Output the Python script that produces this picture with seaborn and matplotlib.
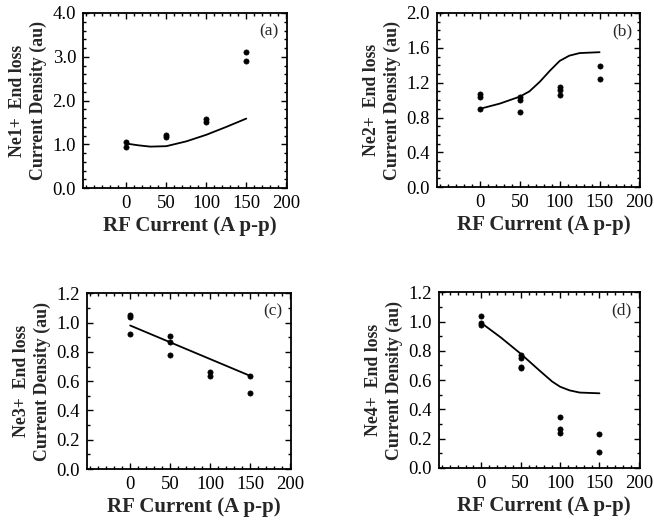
import numpy as np
import pandas as pd
import seaborn as sns
import matplotlib
matplotlib.use("Agg")
import matplotlib.pyplot as plt
from matplotlib.ticker import MultipleLocator, FormatStrFormatter

sns.set_style("ticks")
plt.rcParams['font.family'] = ['Liberation Serif', 'DejaVu Serif']

# ---- data ----
rf_a = [0, 0, 50, 50, 100, 100, 150, 150]
ne1_pts = [1.06, 0.93, 1.21, 1.18, 1.57, 1.51, 3.10, 2.90]
ne1_line_x = [0, 15, 30, 50, 75, 100, 125, 150]
ne1_line_y = [1.02, 0.98, 0.95, 0.96, 1.07, 1.22, 1.40, 1.59]

rf_b = [0, 0, 0, 50, 50, 50, 100, 100, 100, 150, 150]
ne2_pts = [1.065, 1.04, 0.90, 1.03, 1.00, 0.865, 1.15, 1.115, 1.06, 1.39, 1.24]
ne2_line_x = [0, 25, 50, 62, 75, 88, 100, 112, 125, 150]
ne2_line_y = [0.90, 0.96, 1.04, 1.10, 1.21, 1.34, 1.45, 1.51, 1.54, 1.55]

rf_c = [0, 0, 0, 50, 50, 50, 100, 100, 150, 150]
ne3_pts = [1.05, 1.036, 0.92, 0.91, 0.87, 0.78, 0.66, 0.635, 0.636, 0.52]
ne3_line_x = [0, 150]
ne3_line_y = [0.98, 0.636]

rf_d = [0, 0, 0, 50, 50, 50, 50, 100, 100, 100, 150, 150]
ne4_pts = [1.04, 0.99, 0.975, 0.77, 0.75, 0.69, 0.68, 0.35, 0.265, 0.24, 0.233, 0.11]
ne4_line_x = [0, 25, 50, 75, 90, 100, 112, 125, 150]
ne4_line_y = [0.99, 0.89, 0.78, 0.66, 0.59, 0.555, 0.53, 0.515, 0.51]

ylabels = ["Ne1+  End loss\nCurrent Density (au)",
           "Ne2+  End loss\nCurrent Density (au)",
           "Ne3+  End loss\nCurrent Density (au)",
           "Ne4+  End loss\nCurrent Density (au)"]
panel_tags = ["(a)", "(b)", "(c)", "(d)"]
xticks = [0, 50, 100, 150, 200]
xlabel = "RF Current (A p-p)"

fig = plt.figure(figsize=(6.54, 5.20), dpi=100)
positions = [
    [0.127, 0.638, 0.312, 0.337],
    [0.668, 0.640, 0.311, 0.335],
    [0.133, 0.098, 0.312, 0.338],
    [0.671, 0.100, 0.307, 0.338],
]
panels = [
    (rf_a, ne1_pts, ne1_line_x, ne1_line_y, (0, 4.0), 1.0, 0.2),
    (rf_b, ne2_pts, ne2_line_x, ne2_line_y, (0, 2.0), 0.4, 0.1),
    (rf_c, ne3_pts, ne3_line_x, ne3_line_y, (0, 1.2), 0.2, 0.1),
    (rf_d, ne4_pts, ne4_line_x, ne4_line_y, (0, 1.2), 0.2, 0.1),
]

for i, (pos, (xs, ys, lx, ly, ylim, ymaj, ymin)) in enumerate(zip(positions, panels)):
    ax = fig.add_axes(pos)
    pts = pd.DataFrame({"x": xs, "y": ys})
    ln = pd.DataFrame({"x": lx, "y": ly})
    sns.lineplot(data=ln, x="x", y="y", ax=ax, color="black", lw=1.3,
                 estimator=None, sort=False)
    sns.scatterplot(data=pts, x="x", y="y", ax=ax, color="black", s=14,
                    edgecolor="black", linewidth=0.5, zorder=3)
    ax.set_xlim(-54, 201)
    ax.set_ylim(*ylim)
    ax.set_xticks(xticks)
    ax.xaxis.set_minor_locator(MultipleLocator(10))
    ax.yaxis.set_major_locator(MultipleLocator(ymaj))
    ax.yaxis.set_minor_locator(MultipleLocator(ymin))
    ax.yaxis.set_major_formatter(FormatStrFormatter("%.1f"))
    ax.tick_params(which="both", direction="in", top=True, right=True,
                   labelsize=13.5, width=1.0, color="black", labelcolor="black")
    ax.tick_params(which="major", length=4, pad=5)
    ax.tick_params(which="minor", length=2)
    for sp in ax.spines.values():
        sp.set_linewidth(1.3)
        sp.set_color("black")
    ax.set_xlabel(xlabel, fontsize=15, fontweight="bold")
    ax.xaxis.set_label_coords(0.525, -0.16, transform=ax.transAxes)
    ax.xaxis.label.set_va("top")
    ax.set_ylabel(ylabels[i], fontsize=12.8, fontweight="bold", labelpad=4,
                  linespacing=1.25)
    ax.text(0.96, 0.94, panel_tags[i], transform=ax.transAxes, ha="right",
            va="top", fontsize=12.5)

fig.savefig("out.png", dpi=100, facecolor="white")
